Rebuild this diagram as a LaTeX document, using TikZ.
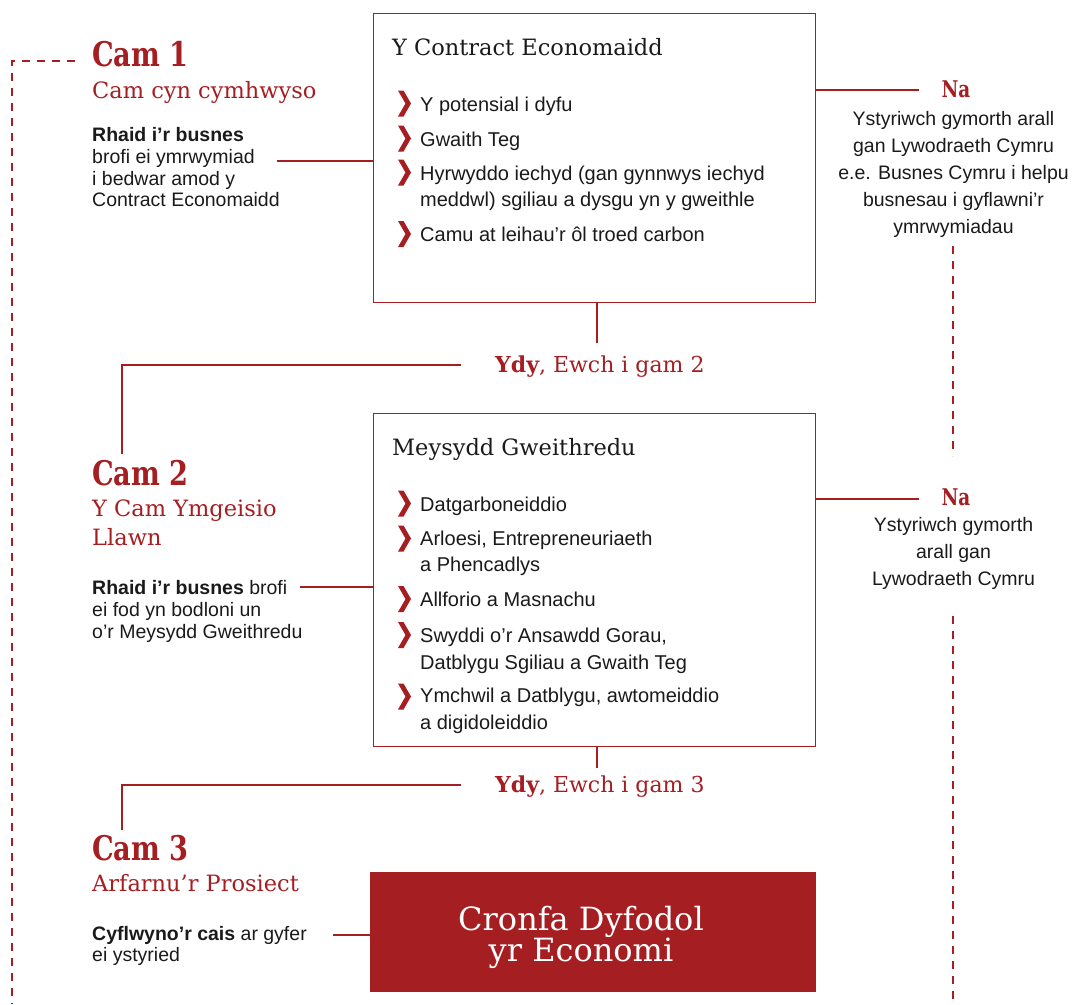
\documentclass[tikz,border=0pt]{standalone}
\usepackage{fontspec}
\setmainfont{Liberation Sans}
\newfontfamily\slab{DejaVu Serif}
\newfontfamily\slabc{DejaVu Serif}[FakeStretch=0.8]
\definecolor{wred}{HTML}{A51E22}
\definecolor{ink}{HTML}{1A1A1A}
\tikzset{
  box/.style={draw=wred, line width=1pt, inner sep=0, anchor=north west},
  conn/.style={draw=wred, line width=1.1pt},
  dashline/.style={draw=wred, line width=1.1pt, dash pattern=on 8pt off 7pt},
  camhead/.style={font=\slabc\bfseries\fontsize{34}{38}\selectfont, text=wred, anchor=base west, inner sep=0},
  camsub/.style={font=\slab\fontsize{22.5}{28.3}\selectfont, text=wred, anchor=base west, inner sep=0, align=left},
  body/.style={font=\fontsize{19.5}{21.7}\selectfont, text=ink, anchor=base west, inner sep=0, align=left},
  boxtitle/.style={font=\slab\fontsize{22.5}{28}\selectfont, text=ink, anchor=base west, inner sep=0},
  item/.style={font=\fontsize{20}{26.5}\selectfont, text=ink, anchor=base west, inner sep=0, align=left},
  ydy/.style={font=\slab\fontsize{22}{28}\selectfont, text=wred, anchor=base west, inner sep=0},
  nahead/.style={font=\slabc\bfseries\fontsize{23}{26}\selectfont, text=wred, anchor=base, inner sep=0},
  natext/.style={font=\fontsize{19.5}{27}\selectfont, text=ink, anchor=base, inner sep=0, align=center},
  chev/.pic={\fill[wred] (-6.5,-13) -- (-1,-13) -- (6.5,0) -- (-1,13) -- (-6.5,13) -- (1,0) -- cycle;}
}
\begin{document}
\begin{tikzpicture}[x=1pt,y=-1pt]
\useasboundingbox (0,0) rectangle (1076,1004);

% ---------- boxes ----------
\node[box, minimum width=442, minimum height=289] (b1) at (373,12.5) {};
\node[box, minimum width=442, minimum height=333] (b2) at (373,412.5) {};
\node[box, fill=wred, draw=wred, minimum width=445, minimum height=118.5] (b3) at (370,872) {};
\node[font=\slab\fontsize{32}{29}\selectfont, text=white, align=center, inner sep=0, anchor=base] (b3t) at (581,961.7) {Cronfa Dyfodol\\yr Economi};

% ---------- box 1 content ----------
\node[boxtitle] (t1) at (392,55) {Y Contract Economaidd};
\pic at (404.5,103.5) {chev};
\node[item] (i11) at (420,111) {Y potensial i dyfu};
\pic at (404.5,138.5) {chev};
\node[item] (i12) at (420,146) {Gwaith Teg};
\pic at (404.5,172.5) {chev};
\node[item] (i13) at (420,206.7) {Hyrwyddo iechyd (gan gynnwys iechyd\\meddwl) sgiliau a dysgu yn y gweithle};
\pic at (404.5,234) {chev};
\node[item] (i14) at (420,241.7) {Camu at leihau’r ôl troed carbon};

% ---------- box 2 content ----------
\node[boxtitle] (t2) at (392,455) {Meysydd Gweithredu};
\pic at (404.5,503.5) {chev};
\node[item] (i21) at (420,511) {Datgarboneiddio};
\pic at (404.5,538.5) {chev};
\node[item] (i22) at (420,571.7) {Arloesi, Entrepreneuriaeth\\a Phencadlys};
\pic at (404.5,599) {chev};
\node[item] (i23) at (420,606.7) {Allforio a Masnachu};
\pic at (404.5,635) {chev};
\node[item] (i24) at (420,669.3) {Swyddi o’r Ansawdd Gorau,\\Datblygu Sgiliau a Gwaith Teg};
\pic at (404.5,696.5) {chev};
\node[item] (i25) at (420,729) {Ymchwil a Datblygu, awtomeiddio\\a digidoleiddio};

% ---------- left column ----------
\node[camhead] (c1) at (92,66.7) {Cam 1};
\node[camsub] (c1s) at (92,98.3) {Cam cyn cymhwyso};
\node[body] (c1b) at (92,206.7) {\textbf{Rhaid i’r busnes}\\brofi ei ymrwymiad\\i bedwar amod y\\Contract Economaidd};

\node[camhead] (c2) at (92,485) {Cam 2};
\node[camsub] (c2s) at (92,545) {Y Cam Ymgeisio\\Llawn};
\node[body] (c2b) at (92,638.3) {\textbf{Rhaid i’r busnes} brofi\\ei fod yn bodloni un\\o’r Meysydd Gweithredu};

\node[camhead] (c3) at (92,860) {Cam 3};
\node[camsub] (c3s) at (92,891) {Arfarnu’r Prosiect};
\node[body] (c3b) at (92,961.7) {\textbf{Cyflwyno’r cais} ar gyfer\\ei ystyried};

% ---------- Ydy labels ----------
\node[ydy] (y2) at (495,372) {\textbf{Ydy}, Ewch i gam 2};
\node[ydy] (y3) at (495,792) {\textbf{Ydy}, Ewch i gam 3};

% ---------- Na labels ----------
\node[nahead] (n1) at (956,97) {Na};
\node[natext] (n1t) at (953.5,233) {Ystyriwch gymorth arall\\gan Lywodraeth Cymru\\e.e. Busnes Cymru i helpu\\busnesau i gyflawni’r\\ymrwymiadau};
\node[nahead] (n2) at (956,505) {Na};
\node[natext] (n2t) at (953.5,585.3) {Ystyriwch gymorth\\arall gan\\Lywodraeth Cymru};

% ---------- connectors ----------
\coordinate (a1) at (277,161);
\draw[conn] (a1) -- (a1 -| b1.west);
\coordinate (a2) at (300,587);
\draw[conn] (a2) -- (a2 -| b2.west);
\coordinate (a3) at (333,935);
\draw[conn] (a3) -- (a3 -| b3.west);

\coordinate (r1) at (919,90);
\draw[conn] (r1 -| b1.east) -- (r1);
\coordinate (r2) at (919,499);
\draw[conn] (r2 -| b2.east) -- (r2);

\coordinate (d1) at (597,343);
\draw[conn] (b1.south -| d1) -- (d1);
\coordinate (h1) at (460.5,365);
\coordinate (k1) at (122,365);
\coordinate (k1e) at (122,453.5);
\draw[conn] (h1) -- (k1) -- (k1e);

\coordinate (d2) at (597,768);
\draw[conn] (b2.south -| d2) -- (d2);
\coordinate (h2) at (460.5,785);
\coordinate (k2) at (122,785);
\coordinate (k2e) at (122,830);
\draw[conn] (h2) -- (k2) -- (k2e);

% ---------- dashed lines ----------
\coordinate (q0) at (75,61);
\coordinate (q1) at (12,61);
\coordinate (q2) at (12,1004);
\draw[dashline] (q0) -- (q1) -- (q2);

\coordinate (e1) at (953,246);
\coordinate (e2) at (953,456);
\draw[dashline] (e1) -- (e2);
\coordinate (e3) at (953,616);
\coordinate (e4) at (953,1004);
\draw[dashline] (e3) -- (e4);
\end{tikzpicture}
\end{document}
